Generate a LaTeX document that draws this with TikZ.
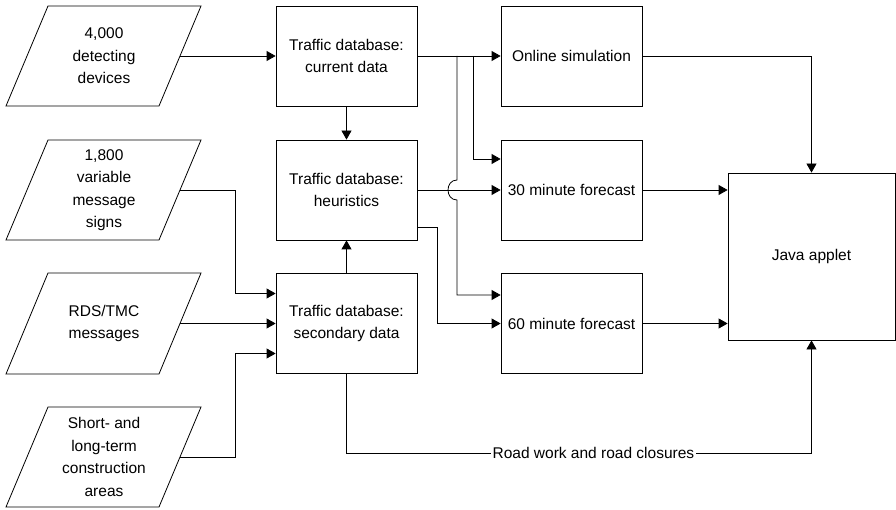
\documentclass[tikz,border=0pt]{standalone}
\usepackage{fontspec}
\setmainfont{Liberation Sans}
\usetikzlibrary{arrows.meta,calc}
\begin{document}
\begin{tikzpicture}[x=1pt,y=-1pt,
  line width=0.8pt,
  txt/.style={font=\fontsize{15.5}{22.5}\selectfont},
  arr/.style={-{Triangle[length=9pt,width=10pt]}},
  box/.style={draw, txt, minimum width=141pt, minimum height=100pt, align=center, inner sep=0pt},
  lbl/.style={txt, align=center, inner sep=0pt},
  para/.style={draw}
]
\useasboundingbox (0,0) rectangle (896,510);

% input parallelograms
\draw[para] (48,6) -- (201,6) -- (159,106) -- (6,106) -- cycle;
\node[lbl] (p1) at (104,56) {4,000\\detecting\\devices};
\coordinate (p1e) at (180,56);

\draw[para] (48,140) -- (201,140) -- (159,240) -- (6,240) -- cycle;
\node[lbl] (p2) at (104,190) {1,800\\variable\\message\\signs};
\coordinate (p2e) at (180,190);

\draw[para] (48,273) -- (201,273) -- (159,374) -- (6,374) -- cycle;
\node[lbl] (p3) at (104,323.5) {RDS/TMC\\messages};
\coordinate (p3e) at (180,323.5);

\draw[para] (48,407) -- (201,407) -- (159,507) -- (6,507) -- cycle;
\node[lbl] (p4) at (104,457) {Short- and\\long-term\\construction\\areas};
\coordinate (p4e) at (180,457);

% boxes
\node[box] (b1) at (346.5,56) {Traffic database:\\current data};
\node[box] (b2) at (346.5,190) {Traffic database:\\heuristics};
\node[box] (b3) at (346.5,323.5) {Traffic database:\\secondary data};
\node[box] (sim) at (571.5,56) {Online simulation};
\node[box] (f30) at (571.5,190) {30 minute forecast};
\node[box] (f60) at (571.5,323.5) {60 minute forecast};
\node[box, minimum width=167pt, minimum height=167pt] (java) at (811.5,256.5) {Java applet};

% helper coordinates
\coordinate (k1) at (235,293.5);
\coordinate (k2) at (235,353.5);
\coordinate (ja) at (473,56);
\coordinate (jb) at (473,159);
\coordinate (ha) at (457,56);
\coordinate (hb) at (457,180);
\coordinate (hc) at (457,200);
\coordinate (hd) at (457,295);
\coordinate (ga) at (437,227);
\coordinate (rw) at (0,453);

% connectors
\draw[arr] (p1e) -- (b1.west);
\draw[arr] (b1.east) -- (sim.west);
\draw[arr] (b1.south) -- (b2.north);
\draw[arr] (b3.north) -- (b2.south);
\draw[arr] (p2e) -| (k1) -- (b3.west |- k1);
\draw[arr] (p3e) -- (b3.west);
\draw[arr] (p4e) -| (k2) -- (b3.west |- k2);

\draw[arr] (ja) -- (jb) -- (f30.west |- jb);
\draw[arr] (ha) -- (hb) .. controls (445,180) and (445,200) .. (hc) -- (hd) -- (f60.west |- hd);
\draw[arr] (b2.east) -- (f30.west);
\draw[arr] (b2.east |- ga) -- (ga) |- (f60.west);

\draw[arr] (sim.east) -| (java.north);
\draw[arr] (f30.east) -- (java.west |- f30.east);
\draw[arr] (f60.east) -- (java.west |- f60.east);
\draw[arr] (b3.south) -- (b3.south |- rw) -- node[txt, fill=white, inner sep=2pt, pos=0.531] (rwl) {Road work and road closures} (java.south |- rw) -- (java.south);
\end{tikzpicture}
\end{document}
